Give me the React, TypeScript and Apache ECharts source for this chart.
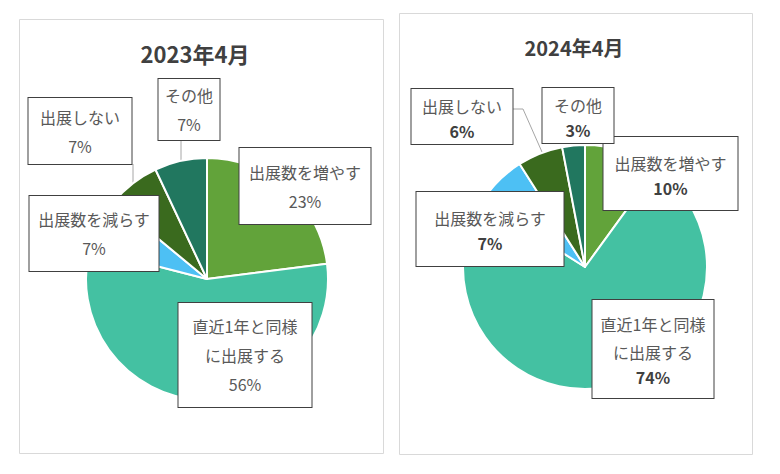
import { useEffect, useRef } from "react";
import * as echarts from "echarts";

// categories in drawing order (clockwise from 12 o'clock)
const CATEGORIES = ["出展数を増やす", "直近1年と同様に出展する", "出展数を減らす", "出展しない", "その他"];
const LABEL_TEXT = ["出展数を増やす", "直近1年と同様\nに出展する", "出展数を減らす", "出展しない", "その他"];
const VALUES_2023 = [23, 56, 7, 7, 7];
const VALUES_2024 = [10, 74, 7, 6, 3];
const TITLES = ["2023年4月", "2024年4月"];
const COLORS = ["#62a33a", "#44c1a2", "#4dc0f4", "#3a6a1e", "#21775f"];

// label boxes [left, top, right, bottom] in page px
const BOXES_2023 = [
  [239, 148, 371, 224],
  [178, 303, 312, 407],
  [29, 196, 159, 271],
  [28, 98, 132, 164],
  [158, 79, 220, 140],
];
const BOXES_2024 = [
  [603, 137, 738, 210],
  [592, 300, 714, 398],
  [416, 192, 564, 266],
  [411, 89, 513, 144],
  [542, 88, 614, 143],
];
const LEADERS_2023 = [null, null, null, [[133, 164], [133, 172], [133, 183]], [[181, 140], [181, 150], [181, 161]]];
const LEADERS_2024 = [null, null, null, [[513, 109], [523, 109], [542, 152]], null];

const FONT = "'Noto Sans CJK JP', 'Noto Sans', sans-serif";

function pieSeries(
  values: number[],
  boxes: number[][],
  leaders: (number[][] | null)[],
  center: number[],
  radius: number,
  nameLH: number,
  pctLH: number,
  boldPct: boolean
) {
  return {
    type: "pie",
    center,
    radius,
    startAngle: 90,
    clockwise: true,
    avoidLabelOverlap: false,
    data: CATEGORIES.map((name, i) => {
      const [l, t, r, b] = boxes[i];
      const textH = LABEL_TEXT[i].split("\n").length * nameLH + pctLH;
      const padY = Math.max(0, (b - t - textH) / 2);
      return {
        name,
        value: values[i],
        itemStyle: { color: COLORS[i] },
        label: { width: r - l - 1, padding: [padY, 0, padY, 0] },
      };
    }),
    itemStyle: { borderColor: "#ffffff", borderWidth: 2 },
    label: {
      show: true,
      position: "outside",
      formatter: (p: any) => {
        const txt = LABEL_TEXT[p.dataIndex]
          .split("\n")
          .map((s) => `{n|${s}}`)
          .join("\n");
        return `${txt}\n{p|${p.value}%}`;
      },
      backgroundColor: "#ffffff",
      borderColor: "#404040",
      borderWidth: 1,
      align: "center",
      verticalAlign: "middle",
      rich: {
        n: { fontSize: 16, color: "#595959", lineHeight: nameLH, fontFamily: FONT },
        p: {
          fontSize: 16,
          color: boldPct ? "#404040" : "#595959",
          fontWeight: boldPct ? "bold" : "normal",
          lineHeight: pctLH,
          fontFamily: FONT,
        },
      },
    },
    labelLine: { show: true, length: 4, length2: 4, lineStyle: { color: "#a6a6a6", width: 1 } },
    labelLayout: (p: any) => {
      const [l, t, r, b] = boxes[p.dataIndex];
      const cx = (l + r) / 2;
      const cy = (t + b) / 2;
      return {
        x: cx,
        y: cy,
        align: "center",
        verticalAlign: "middle",
        labelLinePoints: leaders[p.dataIndex] ?? [
          [cx, cy],
          [cx, cy],
          [cx, cy],
        ],
      };
    },
  };
}

export default function App() {
  const chartRef = useRef<HTMLDivElement>(null);

  useEffect(() => {
    if (!chartRef.current) return;
    const chart = echarts.init(chartRef.current, undefined, { renderer: "svg" });

    chart.setOption({
      animation: false,
      backgroundColor: "#ffffff",
      graphic: [
        {
          type: "rect",
          shape: { x: 19.5, y: 19.5, width: 364, height: 434 },
          style: { fill: "none", stroke: "#d9d9d9", lineWidth: 1 },
        },
        {
          type: "rect",
          shape: { x: 399.5, y: 13.5, width: 353, height: 441 },
          style: { fill: "none", stroke: "#d9d9d9", lineWidth: 1 },
        },
        {
          type: "text",
          x: 195,
          y: 53,
          style: {
            text: TITLES[0],
            fontSize: 22,
            fontWeight: "bold",
            fill: "#404040",
            fontFamily: FONT,
            align: "center",
            verticalAlign: "middle",
          },
        },
        {
          type: "text",
          x: 574,
          y: 47,
          style: {
            text: TITLES[1],
            fontSize: 20,
            fontWeight: "bold",
            fill: "#404040",
            fontFamily: FONT,
            align: "center",
            verticalAlign: "middle",
          },
        },
      ],
      series: [
        pieSeries(VALUES_2023, BOXES_2023, LEADERS_2023, [207, 279], 121, 29, 29, false),
        pieSeries(VALUES_2024, BOXES_2024, LEADERS_2024, [585, 267], 122, 28, 22, true),
      ],
    });

    return () => {
      chart.dispose();
    };
  }, []);

  return (
    <div
      ref={chartRef}
      style={{ position: "fixed", left: 0, top: 0, width: "780px", height: "474px" }}
    />
  );
}
